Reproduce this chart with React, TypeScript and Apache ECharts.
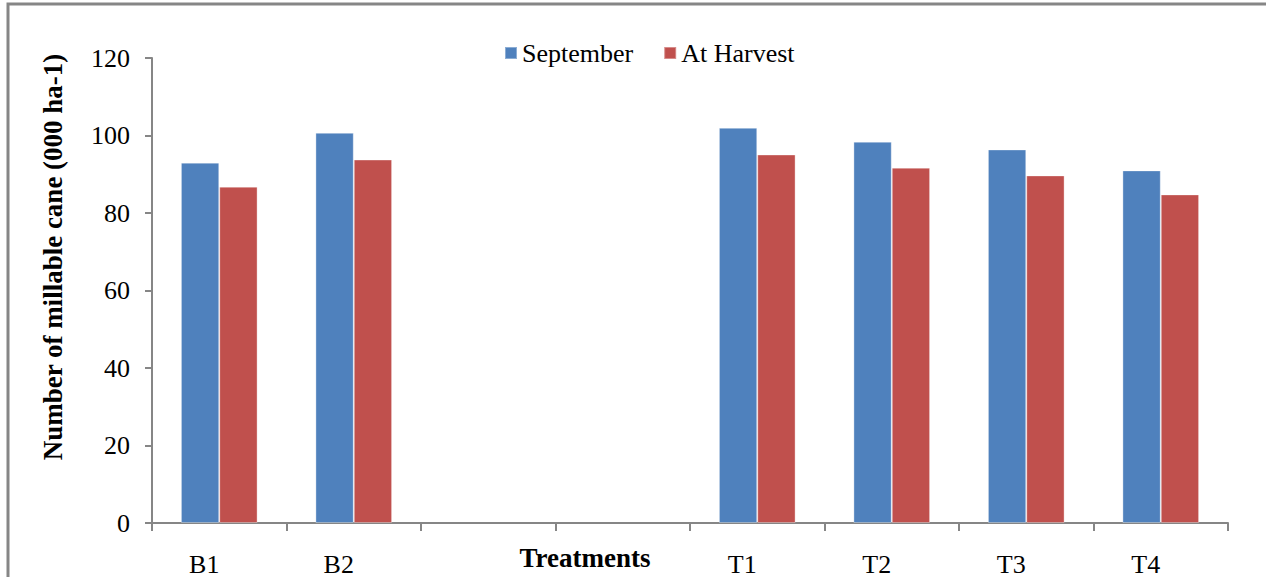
import React, { useEffect, useRef } from "react";
import * as echarts from "echarts";

const categories = ["B1", "B2", "", "", "T1", "T2", "T3", "T4"];
const september = [93.0, 100.7, null, null, 102.0, 98.4, 96.4, 91.0];
const atHarvest = [86.8, 93.8, null, null, 95.1, 91.7, 89.7, 84.8];
const seriesNames = ["September", "At Harvest"];
const yTicks = { min: 0, max: 120, interval: 20 };

const FONT = "Liberation Serif";

export default function App() {
  const ref = useRef<HTMLDivElement>(null);
  useEffect(() => {
    if (!ref.current) return;
    const chart = echarts.init(ref.current, null, { renderer: "svg" });
    chart.setOption({
      animation: false,
      backgroundColor: "#ffffff",
      textStyle: { fontFamily: FONT },
      legend: {
        data: seriesNames,
        left: 499,
        top: 35,
        icon: "rect",
        itemWidth: 12,
        itemHeight: 12,
        itemGap: 30,
        textStyle: { fontFamily: FONT, fontSize: 26, color: "#000" },
      },
      grid: { left: 152, right: 38, top: 58, bottom: 52, containLabel: false },
      xAxis: {
        type: "category",
        data: categories,
        axisLine: { lineStyle: { color: "#868686", width: 2 } },
        axisTick: { show: true, length: 8, lineStyle: { color: "#868686", width: 2 } },
        axisLabel: {
          color: "#000",
          fontFamily: FONT,
          fontSize: 26,
          margin: 28,
          padding: [0, 30, 0, 0],
          interval: 0,
        },
      },
      yAxis: {
        type: "value",
        min: yTicks.min,
        max: yTicks.max,
        interval: yTicks.interval,
        axisLine: { show: true, lineStyle: { color: "#868686", width: 2 } },
        axisTick: { show: true, length: 7, lineStyle: { color: "#868686", width: 2 } },
        splitLine: { show: false },
        axisLabel: { color: "#000", fontFamily: FONT, fontSize: 26, margin: 22 },
      },
      graphic: [
        {
          type: "polyline",
          shape: { points: [[8, 577], [8, 4], [1266, 4]] },
          style: { stroke: "#868686", lineWidth: 3, fill: "none" },
          silent: true,
        },
        {
          type: "text",
          x: 585,
          y: 558,
          style: {
            text: "Treatments",
            font: `bold 27px ${FONT}`,
            fill: "#000",
            textAlign: "center",
            textVerticalAlign: "middle",
          },
        },
        {
          type: "text",
          x: 53,
          y: 257,
          rotation: Math.PI / 2,
          style: {
            text: "Number of millable cane (000 ha-1)",
            font: `bold 27px ${FONT}`,
            fill: "#000",
            textAlign: "center",
            textVerticalAlign: "middle",
          },
        },
      ],
      series: [
        {
          name: seriesNames[0],
          type: "bar",
          data: september,
          barGap: "0%",
          barCategoryGap: "43%",
          itemStyle: { color: "#4F81BD", borderColor: "rgba(255,255,255,0.35)", borderWidth: 1 },
        },
        {
          name: seriesNames[1],
          type: "bar",
          data: atHarvest,
          barGap: "0%",
          barCategoryGap: "43%",
          itemStyle: { color: "#C0504D", borderColor: "rgba(255,255,255,0.35)", borderWidth: 1 },
        },
      ],
    });
    return () => chart.dispose();
  }, []);
  return (
    <div
      ref={ref}
      style={{ position: "fixed", left: 0, top: 0, width: 1266, height: 577 }}
    />
  );
}
